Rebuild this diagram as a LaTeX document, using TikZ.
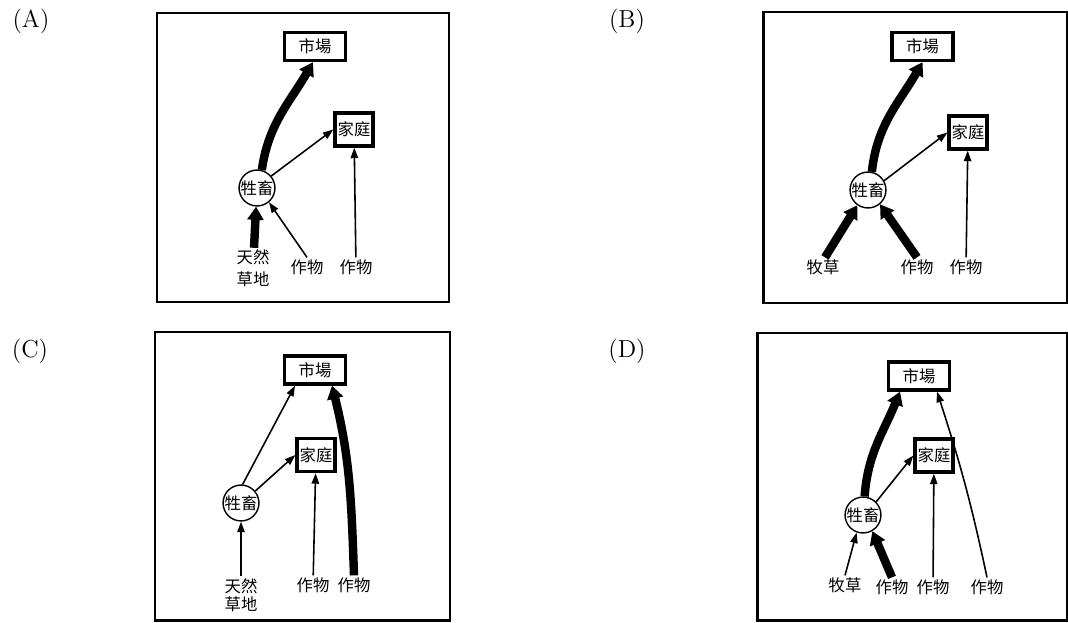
\documentclass[tikz,border=0pt]{standalone}
\usepackage{fontspec}
\newfontfamily\cjk{Noto Sans CJK TC}
\usetikzlibrary{arrows.meta}

\tikzset{
  frame/.style={line width=1.7pt},
  boxnode/.style={draw, line width=1.9pt, inner sep=1pt, font=\cjk\fontsize{9.3}{10}\selectfont},
  mkt/.style={boxnode, minimum width=1.22cm, minimum height=0.56cm},
  home/.style={boxnode, minimum width=0.76cm, minimum height=0.66cm},
  animal/.style={draw, circle, line width=0.8pt, inner sep=0pt, minimum size=0.66cm, font=\cjk\fontsize{9.3}{10}\selectfont},
  crop/.style={inner sep=1pt, align=center, font=\cjk\fontsize{9.3}{11}\selectfont},
  flowthin/.style={line width=0.9pt, -{Triangle[length=6pt,width=4.2pt]}},
  flowthick/.style={line width=4.8pt, -{Triangle[length=7.5pt,width=9pt]}},
  panel/.style={font=\fontsize{14}{16}\selectfont}
}

\begin{document}
\begin{tikzpicture}[x=0.02cm, y=-0.02cm]
  \useasboundingbox (0,0) rectangle (1068,622);

  % panel labels and frames
  \node[panel] (tA) at (31,21) {(A)};
  \node[panel] (tB) at (627,21) {(B)};
  \node[panel] (tC) at (30,351) {(C)};
  \node[panel] (tD) at (627,351) {(D)};
  \draw[frame] (157,13) rectangle (449,302);
  \draw[frame] (763,12) rectangle (1067,303);
  \draw[frame] (155,332) rectangle (450,620);
  \draw[frame] (757,333) rectangle (1067,620);

  % (A)
  \node[mkt] (mA) at (315,46.5) {市場};
  \node[home] (hA) at (354,129.5) {家庭};
  \node[animal] (lA) at (257,188) {牲畜};
  \node[crop, font=\cjk\fontsize{9.3}{12.5}\selectfont] (gA) at (253,268.5) {天然\\草地};
  \node[crop] (cA1) at (307,267) {作物};
  \node[crop] (cA2) at (356,267) {作物};
  \draw[flowthick] (gA) -- (lA);
  \draw[flowthin] (cA1.north) -- (lA.-50);
  \draw[flowthin] (cA2) -- (hA);
  \draw[flowthick] (lA.75) to[out=82,in=-120] ([xshift=-0.04cm]mA.south);
  \draw[flowthin] (lA.40) -- (hA.west);

  % (B)
  \node[mkt] (mB) at (922.5,46.5) {市場};
  \node[home] (hB) at (968,132.5) {家庭};
  \node[animal] (lB) at (868,190) {牲畜};
  \node[crop] (pB) at (823,267) {牧草};
  \node[crop] (cB1) at (917,267) {作物};
  \node[crop] (cB2) at (966,267) {作物};
  \draw[flowthick] ([xshift=0.04cm]pB.north) -- (lB.-125);
  \draw[flowthick] (cB1.north) -- (lB.-50);
  \draw[flowthin] (cB2) -- (hB);
  \draw[flowthick] (lB.78) to[out=84,in=-120] (mB.south);
  \draw[flowthin] (lB.30) -- (hB.west);

  % (C)
  \node[mkt] (mC) at (315,370) {市場};
  \node[home] (hC) at (316,455) {家庭};
  \node[animal] (lC) at (241,503) {牲畜};
  \node[crop, font=\cjk\fontsize{9.3}{10.2}\selectfont] (gC) at (241,595) {天然\\草地};
  \node[crop] (cC1) at (313,585) {作物};
  \node[crop] (cC2) at (354,585) {作物};
  \draw[flowthin] (gC) -- (lC);
  \draw[flowthin] (cC1) -- (hC);
  \draw[flowthick] (cC2.north) to[out=92,in=-76] ([xshift=0.34cm]mC.south);
  \draw[flowthin] (lC.85) -- ([xshift=-0.4cm]mC.south);
  \draw[flowthin] (lC.40) -- (hC.west);

  % (D)
  \node[mkt] (mD) at (919,376) {市場};
  \node[home] (hD) at (934,455.5) {家庭};
  \node[animal] (lD) at (863,515) {牲畜};
  \node[crop] (pD) at (845,585) {牧草};
  \node[crop] (cD1) at (892,587) {作物};
  \node[crop] (cD2) at (933,587) {作物};
  \node[crop] (cD3) at (987,587) {作物};
  \draw[flowthin] (pD.north) -- (lD.-110);
  \draw[flowthick] (cD1.north) -- (lD.-60);
  \draw[flowthin] (cD2) -- (hD);
  \draw[flowthin] (cD3.north) to[out=102,in=-72] ([xshift=0.36cm]mD.south);
  \draw[flowthick] (lD.85) to[out=86,in=-112] ([xshift=-0.38cm]mD.south);
  \draw[flowthin] (lD.45) -- (hD.west);
\end{tikzpicture}
\end{document}
